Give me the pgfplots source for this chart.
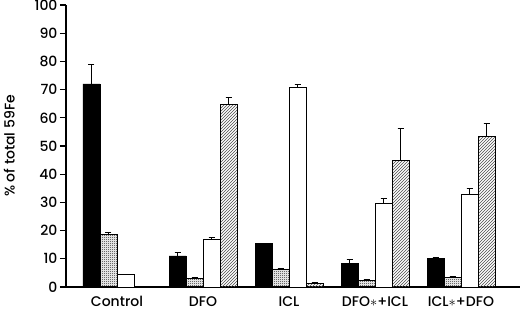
\documentclass[border=0pt]{standalone}
\usepackage{fontspec}
\setmainfont{Poppins}[UprightFont={* Medium}]
\usepackage{pgfplots}
\pgfplotsset{compat=1.18}
\usetikzlibrary{patterns}
\pgfdeclarepatternformonly{checker}{\pgfpointorigin}{\pgfqpoint{2pt}{2pt}}{\pgfqpoint{2pt}{2pt}}{%
  \pgfpathrectangle{\pgfpointorigin}{\pgfqpoint{1pt}{1pt}}%
  \pgfpathrectangle{\pgfqpoint{1pt}{1pt}}{\pgfqpoint{1pt}{1pt}}%
  \pgfusepath{fill}}
\pgfdeclarepatternformonly{finehatch}{\pgfqpoint{-1pt}{-1pt}}{\pgfqpoint{4pt}{4pt}}{\pgfqpoint{3pt}{3pt}}{%
  \pgfsetlinewidth{0.7pt}%
  \pgfpathmoveto{\pgfqpoint{0pt}{0pt}}%
  \pgfpathlineto{\pgfqpoint{3.1pt}{3.1pt}}%
  \pgfusepath{stroke}}
\begin{document}
\begin{tikzpicture}
\path[use as bounding box] (-66pt,-24pt) rectangle (454pt,287pt);
\begin{axis}[at={(0,0)}, anchor=south west,
 scale only axis, width=454pt, height=282pt,
 xmin=0, xmax=454, ymin=0, ymax=100,
 axis lines*=left, axis line style={line width=1.2pt},
 ytick={0,10,...,100}, tick align=outside, major tick length=6pt,
 ytick style={line width=1.2pt, black},
 xtick={51,137,223,309,395},
 xticklabels={Control,DFO,ICL,DFO$\ast$+ICL,ICL$\ast$+DFO},
 xtick style={draw=none},
 xticklabel style={anchor=base, inner sep=0pt, yshift=-13pt},
 yticklabel style={xshift=1pt},
 font=\fontsize{14}{16}\selectfont,
 /pgf/number format/assume math mode=true,
 ylabel={\% of total 59Fe},
 every axis y label/.style={at={(axis description cs:-0.125,0.5)}, rotate=90, anchor=center, inner sep=0pt},
 ybar, bar width=17,
 error bars/y dir=plus, error bars/y explicit,
 error bars/error bar style={line width=1pt, black},
 error bars/draw error bar/.code 2 args={%
   \draw[line width=1pt, black] #1 -- #2;
   \draw[line width=1pt, black] #2 ++(-3pt,0) -- ++(6pt,0);},
]
\addplot[bar shift=0, fill=black, draw=black, line width=0.9pt]
 coordinates {(25.5,72) +- (0,7) (111.5,11) +- (0,1.1) (197.5,15.3) +- (0,0) (283.5,8.5) +- (0,1.3) (369.5,10.1) +- (0,0.5)};
\addplot[bar shift=0, pattern=checker, pattern color=black!90, draw=black, line width=0.9pt]
 coordinates {(42.5,18.5) +- (0,1) (128.5,3) +- (0,0.5) (214.5,6.4) +- (0,0.3) (300.5,2.4) +- (0,0.4) (386.5,3.3) +- (0,0.4)};
\addplot[bar shift=0, fill=white, draw=black, line width=0.9pt]
 coordinates {(59.5,4.5) +- (0,0) (145.5,16.8) +- (0,0.8) (231.5,70.9) +- (0,0.9) (317.5,29.5) +- (0,1.9) (403.5,32.9) +- (0,2)};
\addplot[bar shift=0, pattern=finehatch, pattern color=black!70, draw=black, line width=0.9pt]
 coordinates {(162.5,64.7) +- (0,2.5) (248.5,1.2) +- (0,0.3) (334.5,44.9) +- (0,11.3) (420.5,53.4) +- (0,4.7)};
\end{axis}
\end{tikzpicture}
\end{document}
